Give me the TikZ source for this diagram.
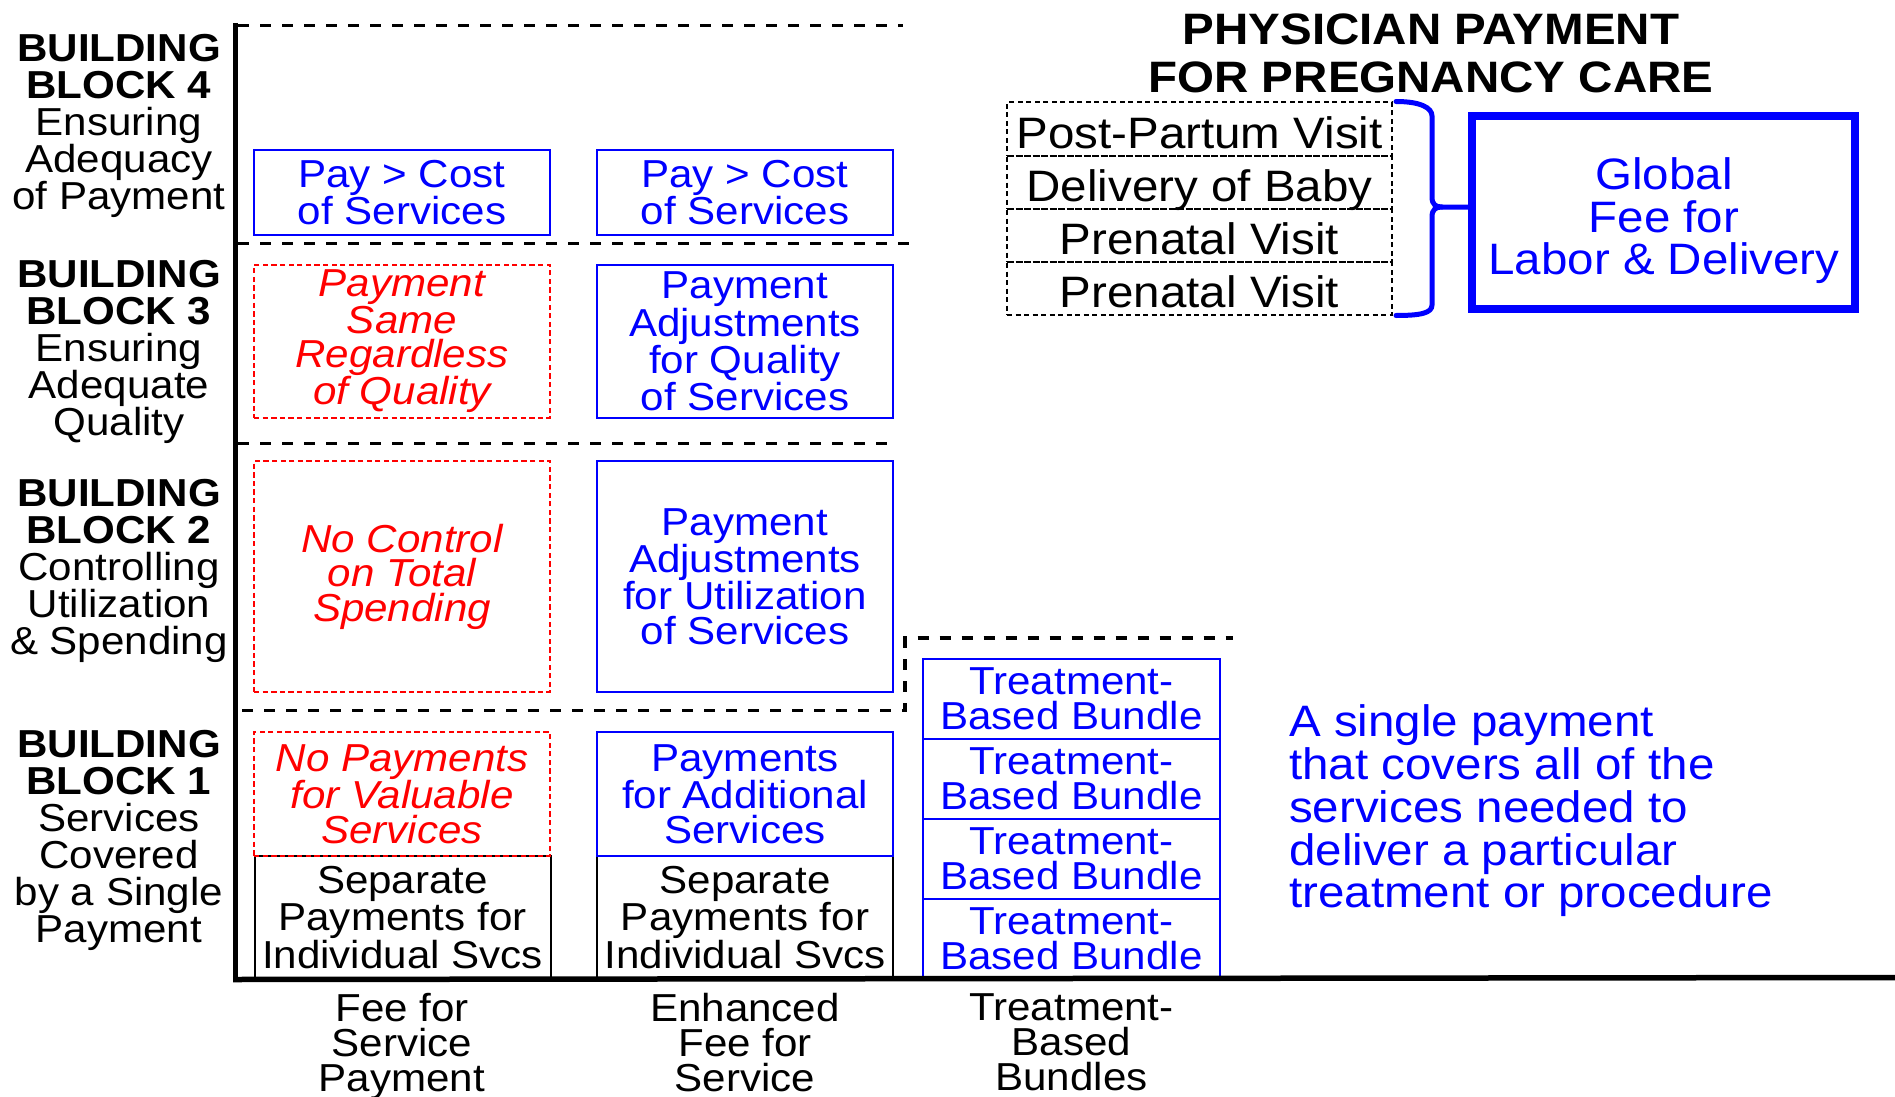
\documentclass[tikz,border=0pt]{standalone}
\usepackage{fontspec}
\setmainfont[FakeStretch=1.08]{Liberation Sans}
\begin{document}
\begin{tikzpicture}[x=1pt,y=-1pt,
  bluebox/.style={draw=blue, line width=2pt, inner sep=0pt, align=center, text=blue,
    font=\fontsize{39}{34.5}\selectfont},
  redbox/.style={draw=red, line width=2.5pt, dash pattern=on 5.3pt off 3.3pt, inner sep=0pt,
    align=center, text=red, font=\fontsize{39}{34.5}\selectfont\itshape},
  blackbox/.style={draw=black, line width=2pt, inner sep=0pt, align=center,
    font=\fontsize{39}{35.5}\selectfont},
  colbox/.style={minimum width=296pt},
  tbbox/.style={draw=blue, line width=2pt, inner sep=0pt, align=center, text=blue,
    minimum width=297pt, minimum height=80pt, font=\fontsize{39}{35}\selectfont},
  stackbox/.style={draw, line width=2pt, dash pattern=on 5pt off 3.5pt, inner sep=0pt,
    minimum width=385pt, minimum height=53pt, text height=39pt, text depth=0pt,
    font=\fontsize{44}{44}\selectfont},
  sepline/.style={line width=3.2pt, dash pattern=on 11pt off 11pt},
  axisline/.style={line width=5.5pt},
  lbl/.style={inner sep=0pt, align=center, font=\fontsize{39}{37}\selectfont},
  collbl/.style={inner sep=0pt, align=center, font=\fontsize{39}{35}\selectfont},
  brace/.style={draw=blue, line width=5pt, line cap=round},
  globalbox/.style={draw=blue, line width=8pt, minimum width=383pt, minimum height=193pt, inner sep=0pt},
  bigtxt/.style={inner sep=0pt, align=center, font=\fontsize{44}{42.5}\selectfont}
]
\useasboundingbox (0,0) rectangle (1895,1097);

% ---- left labels
\node[lbl] (l4) at (119,126) {\textbf{BUILDING}\\\textbf{BLOCK 4}\\Ensuring\\Adequacy\\of Payment};
\node[lbl] (l3) at (119,352) {\textbf{BUILDING}\\\textbf{BLOCK 3}\\Ensuring\\Adequate\\Quality};
\node[lbl] (l2) at (119,571) {\textbf{BUILDING}\\\textbf{BLOCK 2}\\Controlling\\Utilization\\\& Spending};
\node[lbl] (l1) at (119,840.5) {\textbf{BUILDING}\\\textbf{BLOCK 1}\\Services\\Covered\\by a Single\\Payment};

% ---- column 1 and 2 boxes
\node[bluebox, colbox, minimum height=85pt] (a4) at (402,192.5) {Pay > Cost\\of Services};
\node[bluebox, colbox, minimum height=85pt] (b4) at (745,192.5) {Pay > Cost\\of Services};
\node[redbox, colbox, minimum height=153pt] (a3) at (402,341.5) {Payment\\Same\\Regardless\\of Quality};
\node[bluebox, colbox, minimum height=153pt] (b3) at (745,341.5) {Payment\\Adjustments\\for Quality\\of Services};
\node[redbox, colbox, minimum height=231pt] (a2) at (402,576.5) {No Control\\on Total\\Spending};
\node[bluebox, colbox, minimum height=231pt] (b2) at (745,576.5) {Payment\\Adjustments\\for Utilization\\of Services};
\node[blackbox, colbox, minimum height=123pt] (a0) at (402.5,917.5) {Separate\\Payments for\\Individual Svcs};
\node[blackbox, colbox, minimum height=123pt] (b0) at (745,917.5) {Separate\\Payments for\\Individual Svcs};
\node[redbox, colbox, minimum height=124pt] (a1) at (402,794) {No Payments\\for Valuable\\Services};
\node[bluebox, colbox, minimum height=124pt] (b1) at (745,794) {Payments\\for Additional\\Services};

% ---- treatment-based bundles
\node[tbbox] (t1) at (1071.5,698.5) {Treatment-\\Based Bundle};
\node[tbbox] (t2) at (1071.5,778.5) {Treatment-\\Based Bundle};
\node[tbbox] (t3) at (1071.5,858.5) {Treatment-\\Based Bundle};
\node[tbbox] (t4) at (1071.5,938.5) {Treatment-\\Based Bundle};

% ---- column labels
\node[collbl] (c1) at (402,1046.5) {Fee for\\Service\\Payment};
\node[collbl] (c2) at (745,1042.5) {Enhanced\\Fee for\\Service};
\node[collbl] (c3) at (1071.5,1042) {Treatment-\\Based\\Bundles};

% ---- separators
\draw[sepline] (238,25.5) -- (903,25.5);
\draw[sepline] (238,243.5) -- (915,243.5);
\draw[sepline] (238,443.5) -- (897,443.5);
\draw[sepline] (242,710.5) -- (905,710.5) -- (905,638) -- (1233,638);

% ---- axes
\draw[axisline] (235.5,23) -- (235.5,981);
\draw[axisline] (233,979.5) -- (1895,977.5);

% ---- pregnancy care
\node[bigtxt, font=\fontsize{44}{48}\selectfont\bfseries] (title) at (1431,53) {PHYSICIAN PAYMENT\\FOR PREGNANCY CARE};
\node[stackbox] (s1) at (1199.5,129) {Post-Partum Visit};
\node[stackbox] (s2) at (1199.5,182) {Delivery of Baby};
\node[stackbox] (s3) at (1199.5,235) {Prenatal Visit};
\node[stackbox] (s4) at (1199.5,288) {Prenatal Visit};
\node[globalbox] (glob) at (1663.5,212.5) {};
\node[bigtxt, text=blue] (globtxt) at (1664,221) {Global\\Fee for\\Labor \& Delivery};
\coordinate (tip) at (1442,207);
\draw[brace] ([xshift=3pt]s1.north east) .. controls +(25,0) and +(0,-8) .. (1432,116) -- (1432,197)
   .. controls +(0,8) and +(-6,0) .. (tip) -- (glob.west |- tip);
\draw[brace] (tip) .. controls +(-6,0) and +(0,-8) .. (1432,217) -- (1432,305)
   .. controls +(0,8) and +(25,0) .. ([xshift=3pt]s4.south east);

% ---- description
\node[inner sep=0pt, align=left, anchor=west, text=blue, font=\fontsize{44}{42.75}\selectfont] (desc) at (1289,811)
  {A single payment\\that covers all of the\\services needed to\\deliver a particular\\treatment or procedure};
\end{tikzpicture}
\end{document}
